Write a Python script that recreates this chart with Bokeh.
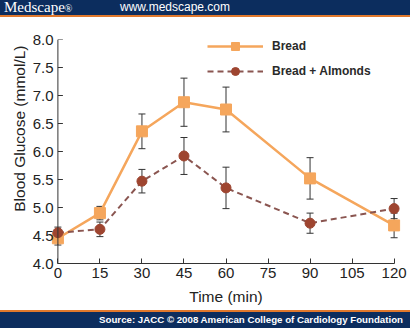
from bokeh.plotting import figure
from bokeh.models import (ColumnDataSource, FixedTicker, NumeralTickFormatter, Whisker,
                          TeeHead, Legend, LegendItem, Range1d, Span, Div, Title)
from bokeh.layouts import column
from bokeh.embed import file_html
from bokeh.resources import INLINE

# ---- data ----
time_min = [0, 15, 30, 45, 60, 90, 120]
bread = [4.45, 4.90, 6.36, 6.88, 6.75, 5.52, 4.68]
bread_err = [0.12, 0.12, 0.31, 0.43, 0.40, 0.37, 0.22]
almonds = [4.55, 4.61, 5.47, 5.92, 5.35, 4.72, 4.98]
almonds_err = [0.10, 0.13, 0.21, 0.33, 0.37, 0.18, 0.18]
x_ticks = [0, 15, 30, 45, 60, 75, 90, 105, 120]
y_ticks = [4.0, 4.5, 5.0, 5.5, 6.0, 6.5, 7.0, 7.5, 8.0]
series_names = ["Bread", "Bread + Almonds"]
y_title = "Blood Glucose (mmol/L)"
x_title = "Time (min)"
header_brand = "Medscape"
header_url = "www.medscape.com"
footer_text = "Source: JACC \u00a9 2008 American College of Cardiology Foundation"

NAVY = "#0c2d5e"
ORANGE_BAR = "#e0782c"
BREAD_C = "#f5a65c"
ALM_C = "#9e4530"
ALM_LINE = "#8a5550"
TXT = "#222222"
AXC = "#333333"
FONT = "Liberation Sans"
W = 410

# ---- header ----
hdr = Div(width=W, height=17, margin=0, text=(
    f'<div style="position:relative;width:{W}px;height:17px;background:{NAVY};overflow:hidden;">'
    f'<div style="position:absolute;left:0;top:15px;width:{W}px;height:2px;background:{ORANGE_BAR};"></div>'
    f'<span style="position:absolute;left:4px;top:0;line-height:15px;font-family:\'Liberation Serif\';'
    f'font-size:15px;color:white;white-space:nowrap;">{header_brand}'
    f'<span style="font-size:10px;">\u00ae</span></span>'
    f'<span style="position:absolute;left:120px;top:0;line-height:15px;font-family:\'{FONT}\';'
    f'font-size:12px;color:white;white-space:nowrap;">{header_url}</span>'
    f'</div>'))

# ---- main plot ----
p = figure(width=W, height=293, x_range=Range1d(-3, 123), y_range=Range1d(4.0, 8.0),
           toolbar_location=None, output_backend="svg",
           min_border_left=49, min_border_right=8, min_border_top=22, min_border_bottom=47)
p.outline_line_color = None
p.grid.visible = False
p.background_fill_color = "white"
p.border_fill_color = "white"

src = ColumnDataSource(dict(
    t=time_min, bread=bread, almonds=almonds,
    b_lo=[v - e for v, e in zip(bread, bread_err)],
    b_hi=[v + e for v, e in zip(bread, bread_err)],
    a_lo=[v - e for v, e in zip(almonds, almonds_err)],
    a_hi=[v + e for v, e in zip(almonds, almonds_err)],
))

# y-axis line and inward ticks drawn at x = 0 (x range is padded so end markers are not clipped)
p.add_layout(Span(location=x_ticks[0], dimension="height", line_color=AXC, line_width=1))
px_per_unit = (p.width - 49 - 8) / (123 - (-3))
p.segment(x0=[x_ticks[0]] * len(y_ticks), x1=[x_ticks[0] + 5 / px_per_unit] * len(y_ticks),
          y0=y_ticks, y1=y_ticks, line_color=AXC, line_width=1)

for lo, hi in (("b_lo", "b_hi"), ("a_lo", "a_hi")):
    w = Whisker(source=src, base="t", lower=lo, upper=hi, line_color=AXC, line_width=1,
                upper_head=TeeHead(size=7, line_color=AXC, line_width=1),
                lower_head=TeeHead(size=7, line_color=AXC, line_width=1))
    p.add_layout(w)

l1 = p.line("t", "bread", source=src, line_color=BREAD_C, line_width=2.5)
m1 = p.scatter("t", "bread", source=src, marker="square", size=11, fill_color=BREAD_C,
               line_color=BREAD_C)
l2 = p.line("t", "almonds", source=src, line_color=ALM_LINE, line_width=2, line_dash="6 4")
m2 = p.scatter("t", "almonds", source=src, marker="circle", size=10, fill_color=ALM_C,
               line_color=ALM_C)

# axes
p.xaxis.ticker = FixedTicker(ticks=x_ticks)
p.xaxis.bounds = (x_ticks[0], x_ticks[-1])
p.yaxis.ticker = FixedTicker(ticks=y_ticks)
p.yaxis.formatter = NumeralTickFormatter(format="0.0")
for ax in (p.xaxis[0], p.yaxis[0]):
    ax.axis_line_color = AXC
    ax.axis_line_width = 1
    ax.major_tick_line_color = AXC
    ax.major_tick_in = 5
    ax.major_tick_out = 0
    ax.minor_tick_line_color = None
    ax.major_label_text_font = FONT
    ax.major_label_text_font_size = "15px"
    ax.major_label_text_color = TXT
    ax.axis_label_text_font = FONT
    ax.axis_label_text_font_size = "15.5px"
    ax.axis_label_text_font_style = "normal"
    ax.axis_label_text_color = TXT
p.yaxis.axis_line_color = None
p.yaxis.major_tick_line_color = None
p.xaxis.axis_label = x_title
p.xaxis.major_label_standoff = 4
p.xaxis.axis_label_standoff = 7
p.yaxis.major_label_standoff = -4

# y-axis title placed near the top of the axis, as in the original
p.add_layout(Title(text=y_title, align="right", offset=6, standoff=4,
                   text_font=FONT, text_font_size="15.5px", text_font_style="normal",
                   text_color=TXT), "left")

legend = Legend(items=[LegendItem(label=series_names[0], renderers=[l1, m1]),
                       LegendItem(label=series_names[1], renderers=[l2, m2])],
                location=(158, 182), glyph_width=56, glyph_height=20, spacing=5,
                padding=0, margin=0, label_standoff=9,
                label_text_font=FONT, label_text_font_size="12px",
                label_text_font_style="bold", label_text_color="#2a2a2a",
                border_line_color=None, background_fill_alpha=0)
p.add_layout(legend)

# ---- footer ----
ftr = Div(width=W, height=18, margin=0, text=(
    f'<div style="position:relative;width:{W}px;height:18px;background:{NAVY};overflow:hidden;">'
    f'<div style="position:absolute;left:0;top:0;width:{W}px;height:2px;background:{ORANGE_BAR};"></div>'
    f'<span style="position:absolute;right:7px;top:2px;line-height:16px;font-family:\'{FONT}\';'
    f'font-size:9.7px;font-weight:bold;color:white;white-space:nowrap;">{footer_text}</span>'
    f'</div>'))

layout = column(hdr, p, ftr, spacing=0)
open("out.html", "w").write(file_html(layout, INLINE))
